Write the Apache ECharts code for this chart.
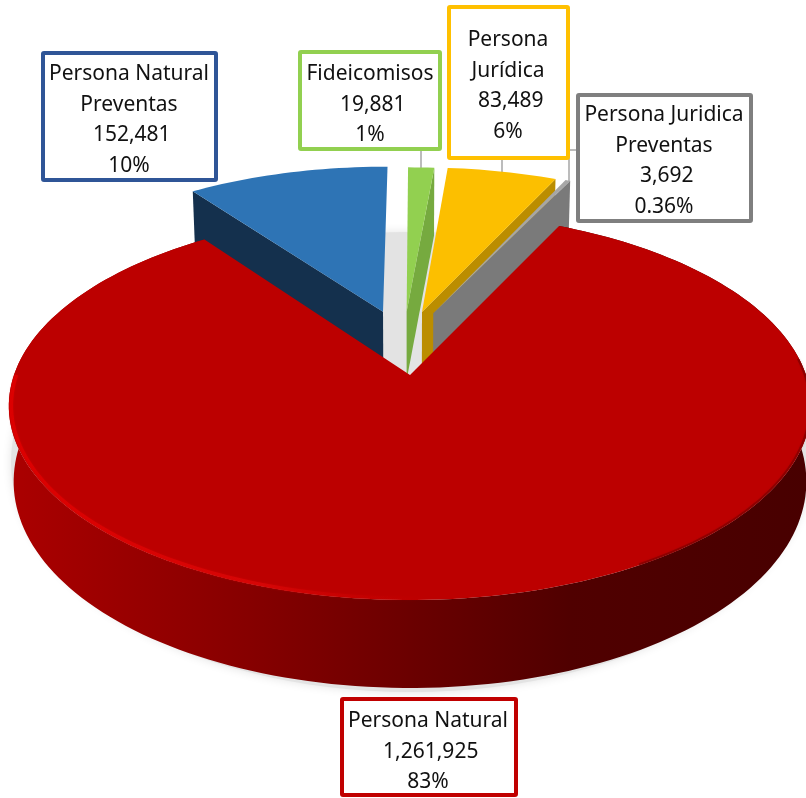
<!DOCTYPE html>
<html>
<head>
<meta charset="utf-8">
<style>
  html, body { margin: 0; padding: 0; background: #fff; }
  #chart { width: 806px; height: 798px; }
</style>
</head>
<body>
<div id="chart"></div>
<script src="https://cdn.jsdelivr.net/npm/echarts@6/dist/echarts.min.js"></script>
<script>
// datos, en el orden del pastel (sentido horario)
var names = ['Persona Natural\nPreventas', 'Fideicomisos', 'Persona\nJurídica', 'Persona Juridica\nPreventas', 'Persona Natural'];
var values = [152481, 19881, 83489, 3692, 1261925];
var percents = ['10%', '1%', '6%', '0.36%', '83%'];

// estilo por rebanada
var topColors = ['#2e74b5', '#92d050', '#fcbf00', '#a6a6a6', '#bc0000'];
var wallColors = ['#14304d', '#76aa3f', '#bb8d00', '#7a7a7a', '#6b0000'];
var borderColors = ['#2f5597', '#92d050', '#ffc000', '#7f7f7f', '#c00000'];
var shiftX = [-0.072, -0.009, 0.032, 0.062, 0];
var shiftY = [0.353, 0.353, 0.352, 0.345, 0];
var radius = [0.985, 0.98, 0.98, 0.98, 1];
var wallAtEnd = [false, true, true, true, false];
// cajas de etiqueta: x, y, ancho, alto, centro del texto, primera linea
var boxes = [
  [43, 53, 173, 127, 129, 59],
  [300, 52, 140, 97, 370, 59],
  [449, 7, 119, 151, 508, 25],
  [578, 95, 173, 126, 664, 100],
  [342, 699, 174, 96, 428, 706]
];

// proyeccion con perspectiva del plano del pastel
var cx = 410, cy = 375, fx = 396, fy = 189, persp = 0.16;
var startAngle = -35.9;
var total = values.reduce(function (a, b) { return a + b; }, 0);

function project(px, py) {
  var w = 1 + persp * py;
  return [cx + fx * px / w, cy - fy * py / w];
}
function drop(px, py) {
  var p = project(px, py);
  var d = 68 + 14.8 * (0.35 - Math.min(py, 0.35));
  return [cx + (p[0] - cx) * 0.988, p[1] + d];
}
function rimPoint(i, deg, fn, scale) {
  var a = deg * Math.PI / 180;
  var r = radius[i] * (scale || 1);
  return (fn || project)(shiftX[i] + r * Math.sin(a), shiftY[i] + r * Math.cos(a));
}
function arcPoints(i, from, to, fn, scale) {
  var pts = [];
  var n = Math.max(2, Math.ceil(Math.abs(to - from) / 1.5));
  for (var k = 0; k <= n; k++) pts.push(rimPoint(i, from + (to - from) * k / n, fn, scale));
  return pts;
}
function sliceAngles(i) {
  var a = startAngle;
  for (var k = 0; k < i; k++) a += values[k] / total * 360;
  return [a, a + values[i] / total * 360];
}

function renderSlice(params, api) {
  var i = params.dataIndex;
  var ang = sliceAngles(i);
  var kids = [];
  var apex = project(shiftX[i], shiftY[i]);
  var apexLow = drop(shiftX[i], shiftY[i]);

  if (i === 4) {
    // pared exterior y brillo del borde
    var top = arcPoints(i, ang[0], ang[1]);
    var low = arcPoints(i, ang[0], ang[1], drop).reverse();
    kids.push({
      type: 'polygon',
      shape: { points: top.concat(low) },
      style: {
        fill: {
          type: 'linear', x: 0, y: 0, x2: 1, y2: 0,
          colorStops: [
            { offset: 0, color: '#ab0000' },
            { offset: 0.3, color: '#860000' },
            { offset: 0.5, color: '#6b0000' },
            { offset: 0.7, color: '#500000' },
            { offset: 1, color: '#480000' }
          ]
        }
      }
    });
  } else {
    var e = wallAtEnd[i] ? ang[1] : ang[0];
    kids.push({
      type: 'polygon',
      shape: { points: [apex, rimPoint(i, e), rimPoint(i, e, drop), apexLow] },
      style: { fill: wallColors[i] }
    });
  }

  kids.push({
    type: 'polygon',
    shape: { points: [apex].concat(arcPoints(i, ang[0], ang[1])) },
    style: { fill: topColors[i] }
  });

  if (i === 4) {
    kids.push({
      type: 'polyline',
      shape: { points: arcPoints(i, 270, 178, project, 0.994) },
      style: {
        fill: null, lineWidth: 3.5,
        shadowBlur: 2, shadowColor: 'rgba(220,0,0,0.6)',
        stroke: {
          type: 'linear', x: 0, y: 0, x2: 1, y2: 0,
          colorStops: [
            { offset: 0, color: '#dc0000' },
            { offset: 0.6, color: '#d60606' },
            { offset: 1, color: 'rgba(188,0,0,0)' }
          ]
        }
      }
    });
    kids.push({
      type: 'polyline',
      shape: { points: arcPoints(i, 150, 85, project, 0.997) },
      style: { fill: null, lineWidth: 2, stroke: 'rgba(120,0,0,0.6)', shadowBlur: 2, shadowColor: 'rgba(120,0,0,0.5)' }
    });
  }
  return { type: 'group', children: kids };
}

function renderLabel(params, api) {
  var i = params.dataIndex;
  var b = boxes[i];
  return {
    type: 'group',
    children: [
      {
        type: 'rect',
        shape: { x: b[0], y: b[1], width: b[2], height: b[3], r: 1 },
        style: { fill: '#fff', stroke: borderColors[i], lineWidth: 4 }
      },
      {
        type: 'text',
        style: {
          text: names[i] + '\n ' + values[i].toLocaleString('en-US') + '\n' + percents[i],
          x: b[4], y: b[5],
          textAlign: 'center', textVerticalAlign: 'top',
          fontFamily: 'Noto Sans', fontSize: 21, lineHeight: 30.6,
          fill: '#111'
        }
      }
    ]
  };
}

function renderBackdrop() {
  // sombra bajo el pastel y lineas guia
  var pts = [];
  for (var a = 0; a < 360; a += 3) {
    var r = a * Math.PI / 180;
    pts.push([411 + 400 * Math.sin(r), 462 + 230 * Math.cos(r)]);
  }
  var leader = { stroke: '#a6a6a6', lineWidth: 1.5 };
  return {
    type: 'group',
    children: [
      { type: 'polygon', shape: { points: pts }, style: { fill: '#e3e3e3', shadowBlur: 10, shadowColor: '#e3e3e3' } },
      { type: 'line', shape: { x1: 421, y1: 148, x2: 421, y2: 168 }, style: leader },
      { type: 'line', shape: { x1: 502, y1: 158, x2: 502, y2: 173 }, style: leader },
      { type: 'polyline', shape: { points: [[578, 150], [569, 150], [569, 182]] }, style: { fill: null, stroke: '#a6a6a6', lineWidth: 1.5 } }
    ]
  };
}

var chart = echarts.init(document.getElementById('chart'));
chart.setOption({
  animation: false,
  backgroundColor: '#fff',
  series: [
    { type: 'custom', coordinateSystem: 'none', renderItem: renderBackdrop, data: [0], silent: true, z: 1 },
    { type: 'custom', coordinateSystem: 'none', renderItem: renderSlice, data: values, z: 2 },
    { type: 'custom', coordinateSystem: 'none', renderItem: renderLabel, data: values, z: 3 }
  ]
});
</script>
</body>
</html>
